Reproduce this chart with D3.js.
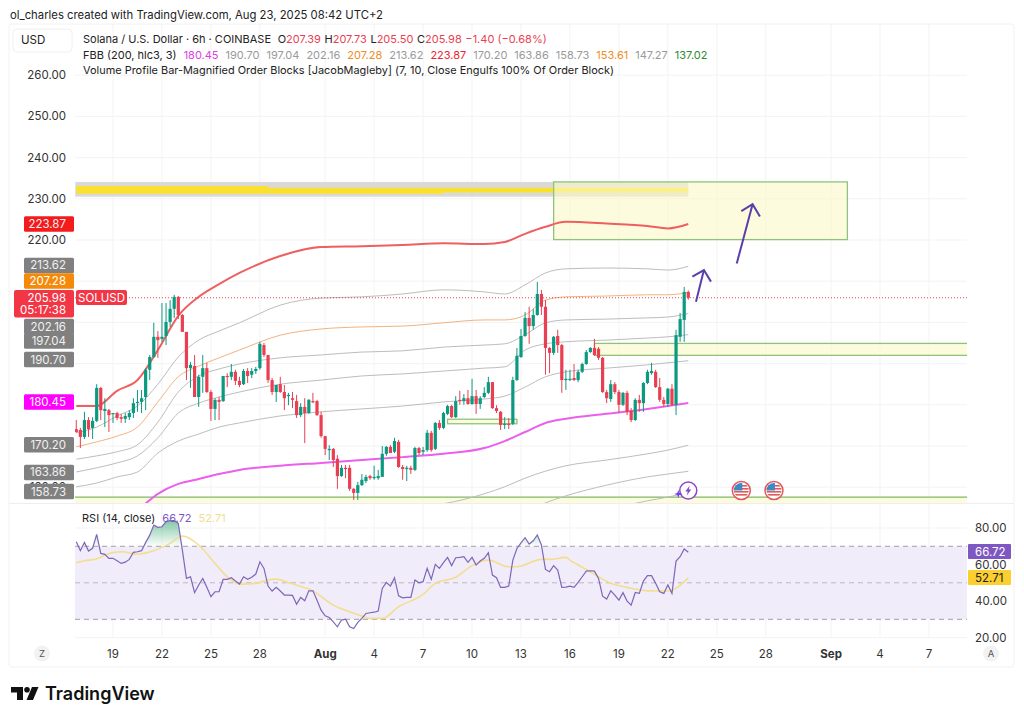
<!DOCTYPE html>
<html>
<head>
<meta charset="utf-8">
<script src="https://cdn.jsdelivr.net/npm/d3@7/dist/d3.min.js"></script>
<style>
  html, body { margin: 0; padding: 0; background: #fff; }
  svg { display: block; }
  text { font-family: Inter, "Noto Sans", sans-serif; }
</style>
</head>
<body>
<svg id="chart" width="1024" height="721"></svg>
<script>
// candles, 6h bars, the last one opens Aug 23 06:00 UTC
var opens = [174.1,173.9,172.2,176.3,174.4,176.1,184.1,178.5,178.7,177.8,
178.0,177.0,176.6,177.0,178.0,180.4,180.7,181.9,188.5,191.6,
196.5,196.0,196.7,200.1,203.3,206.2,201.8,197.7,188.9,189.4,
181.9,186.8,188.9,183.1,179.0,181.2,180.9,187.0,186.8,188.0,
185.8,185.0,188.2,187.3,188.2,188.9,194.5,192.1,186.0,183.1,
185.0,183.1,182.1,181.6,180.9,177.5,179.5,178.0,180.9,180.9,
177.5,172.4,169.0,169.3,166.9,162.7,164.7,164.7,159.6,158.6,
160.5,161.5,162.7,162.2,162.2,162.5,168.1,169.8,168.6,171.0,
164.9,164.4,164.7,164.2,169.5,168.6,169.0,173.2,169.3,175.6,
174.4,177.8,179.7,177.0,181.2,180.9,181.6,180.2,182.1,180.2,
181.9,182.9,185.5,179.2,178.3,175.1,175.4,175.4,186.0,191.6,
196.7,201.1,199.1,201.8,206.9,203.8,193.8,192.6,196.7,194.5,
186.0,186.0,186.5,186.0,188.0,189.9,192.8,193.8,193.6,191.4,
183.1,181.4,185.0,183.1,180.0,182.9,178.5,176.3,181.2,180.4,
185.3,187.7,188.0,184.3,181.2,180.2,183.9,180.0,196.5,200.6,207.39];
var highs = [176.3,174.4,178.3,177.0,177.0,185.0,184.3,181.6,179.0,178.0,
178.3,177.8,178.0,178.7,181.6,183.6,183.6,188.9,192.1,199.9,
197.9,204.7,204.7,205.4,206.7,206.4,202.0,197.7,190.4,192.1,
187.3,192.1,190.2,183.6,181.6,181.9,187.0,187.7,189.9,188.5,
186.8,188.7,188.9,188.9,189.2,195.3,195.0,192.1,186.5,184.8,
186.8,184.8,182.9,183.1,182.4,180.4,181.6,181.4,182.9,181.2,
178.3,172.4,170.2,169.5,167.8,165.4,165.4,165.4,159.8,161.3,
163.2,163.0,163.0,165.2,164.2,170.0,170.0,170.2,172.0,171.5,
165.4,165.2,165.2,169.8,169.8,169.8,173.9,173.7,175.8,176.3,
178.3,180.0,180.0,182.1,183.4,182.6,183.6,186.3,183.6,182.1,
184.3,186.8,185.5,179.9,178.5,177.0,176.8,186.8,193.8,198.4,
202.5,203.8,203.3,209.8,207.9,205.4,194.0,196.7,198.2,194.8,
188.5,188.5,189.9,188.5,190.2,193.3,194.0,196.0,194.0,191.6,
183.6,186.0,185.5,183.6,183.1,183.4,179.2,181.6,182.4,185.5,
188.5,190.2,188.5,186.5,181.9,184.1,185.0,198.2,202.3,208.6,207.73];
var lows = [173.2,169.5,171.7,172.2,171.7,175.8,176.3,174.6,173.4,175.6,
176.3,175.6,175.6,176.3,176.8,178.3,178.0,178.7,186.0,191.4,
191.4,195.3,194.5,198.9,201.1,200.8,197.7,186.0,184.1,181.9,
179.5,182.9,182.9,176.1,176.3,176.3,180.7,184.3,186.0,184.8,
184.3,184.8,185.3,186.5,187.5,188.5,191.6,185.3,182.4,180.7,
182.9,178.7,179.9,179.2,176.8,177.0,170.7,177.8,180.4,177.3,
172.0,167.8,166.6,164.9,159.6,162.5,162.2,159.1,156.9,156.9,
160.3,161.0,161.8,161.8,161.8,162.5,167.6,168.3,168.3,164.7,
161.8,161.5,163.2,163.9,167.8,167.8,168.6,168.6,169.0,173.9,
174.1,177.5,176.8,176.8,180.0,180.0,180.0,180.0,177.8,179.0,
181.6,182.6,179.0,178.0,173.9,174.1,174.1,175.1,185.8,191.4,
196.5,194.8,198.2,201.6,201.8,187.3,187.7,192.1,192.6,182.9,
183.6,185.8,185.8,185.5,187.7,189.7,192.6,191.9,190.9,182.9,
180.4,180.7,182.6,178.0,179.7,177.5,175.8,176.1,178.3,178.3,
185.0,187.3,184.1,180.7,179.5,179.5,179.7,177.5,195.3,195.3,205.50];
var closes = [173.4,172.2,176.3,174.1,176.1,184.1,178.7,179.0,177.5,178.0,
176.8,176.6,177.3,178.0,180.4,180.7,181.6,188.5,191.6,196.5,
195.7,196.5,200.1,203.3,206.2,201.8,197.7,188.9,189.7,181.9,
186.8,188.9,183.1,179.0,181.2,180.7,187.0,186.8,188.0,185.8,
184.8,188.2,187.0,188.2,188.7,194.8,192.1,186.0,183.1,184.8,
183.1,181.6,182.4,181.2,177.5,179.5,178.0,181.2,180.7,177.5,
172.4,169.3,169.3,166.6,162.7,164.7,164.4,159.6,158.6,160.5,
161.8,162.5,162.2,162.5,162.7,168.1,169.8,168.3,171.2,164.9,
164.4,164.7,164.2,169.5,168.3,169.0,173.2,169.0,175.6,174.4,
178.0,179.7,177.0,180.9,180.9,181.6,180.2,182.1,180.2,181.6,
182.9,185.5,179.2,178.5,175.1,175.4,175.1,186.0,191.9,196.7,
201.1,199.1,201.8,206.9,203.8,193.8,192.6,196.5,194.5,186.0,
186.3,186.3,186.0,188.0,189.9,192.8,193.8,192.1,191.4,183.1,
181.6,185.0,183.1,180.0,182.9,178.3,176.3,181.2,180.4,185.3,
188.0,188.2,184.3,181.2,180.2,183.9,180.0,196.9,200.8,207.4,205.98];

// FBB lines, read every few bars
var bandBars = [0,5,10,15,20,25,30,35,40,50,60,70,80,90,100,105,110,115,120,130,140,145,150];
var fbbRed = [179.7,179.7,183.4,186.0,193.3,201.6,206.2,209.3,212.0,216.1,218.3,218.5,218.8,219.2,219.0,219.5,221.5,223.2,224.4,224.0,223.4,222.8,223.87];
var fbb21362 = [173.2,174.6,177.3,179.7,185.0,191.6,195.7,197.9,199.9,204.2,205.9,206.2,206.9,207.9,207.4,206.9,209.1,212.0,213.0,213.2,213.0,212.7,213.62];
var fbbOrange = [169.8,171.0,172.4,174.6,180.7,186.8,189.4,191.4,193.3,196.9,198.4,198.9,199.1,199.9,200.6,200.6,201.8,205.4,206.2,206.4,206.7,206.7,207.28];
var fbb20216 = [166.8,167.6,168.6,170.3,175.8,183.1,187.0,188.7,189.9,191.4,192.1,192.8,193.1,194.0,194.5,194.8,197.0,199.9,200.6,200.8,201.1,201.3,202.16];
var fbb19704 = [163.7,164.7,165.9,167.6,172.0,178.0,180.4,181.9,183.1,185.0,186.0,187.0,187.5,188.2,188.9,189.2,193.3,194.8,195.3,195.7,196.2,196.5,197.04];
var fbb19070 = [160.1,161.0,162.5,163.7,168.3,171.2,172.9,174.6,175.6,177.3,178.3,179.0,179.7,180.7,181.4,182.1,184.3,186.8,188.0,188.9,189.7,190.2,190.70];
var fbbBasis = [147.2,149.6,152.1,154.5,158.4,160.8,162.0,163.2,164.2,165.2,165.9,166.6,167.3,168.1,169.5,171.2,173.4,175.6,176.6,177.8,179.0,179.7,180.45];
var fbb17020 = [136,137,139,142,146,148,149,149.5,150,152,153,154,155.2,156.0,158.4,160.1,162.2,163.9,165.2,166.6,168.1,169.0,170.20];
var fbb16386 = [128,129,131,134,138,141,143,144,145,146,147,148,149,150,151,152,154,156.2,157.9,160.5,162.5,163.2,163.86];
var fbb15873 = [122,123,125,128,132,135,137,138,139,140,141,142,143,144,145,146,148,150,152,154.5,156.7,157.6,158.73];

// RSI(14) per bar, and its moving average at the bars where it was read
var rsi = [72.5,67.6,72.1,67.4,68.9,76.5,66.1,65.6,63.4,63.4,
62.1,60.6,61.3,62.8,66.7,67.0,67.6,72.0,76.1,81.6,
80.4,80.7,83.5,84.0,84.0,82.5,67.9,52.4,53.3,44.6,
48.8,52.4,47.5,42.4,45.1,45.1,51.9,51.9,52.8,51.0,
49.3,53.3,51.9,53.0,54.8,61.5,57.9,48.2,45.5,47.5,
45.5,43.3,43.3,43.1,38.3,42.0,40.2,45.6,45.6,40.5,
35.0,31.9,31.0,28.6,25.9,29.6,30.1,25.9,25.0,28.3,
30.5,33.2,33.6,33.9,34.5,46.9,50.2,48.2,52.8,42.9,
41.8,42.0,42.0,51.5,50.0,50.6,57.9,51.9,60.1,57.9,
61.0,63.9,59.4,63.7,63.9,64.3,61.2,63.9,59.7,61.9,
63.4,66.5,54.2,52.8,47.5,47.5,48.2,62.4,68.8,71.9,
74.7,71.2,73.0,76.2,70.7,57.3,56.1,59.4,57.0,47.5,
47.6,48.2,47.5,50.2,53.3,56.4,56.6,56.4,52.4,42.7,
41.1,45.6,43.3,40.5,44.6,40.0,37.8,44.7,44.2,50.9,
53.9,53.9,49.7,45.1,44.2,48.8,44.2,61.9,64.3,68.5,66.72];
var rsiMaBars = [0,2,4.5,9,11.5,14.5,19,23,26,30,34,37,40,44,47,49,52.5,58,63,67,70,72,75,79,85,88,93,97,101,106,108,114,116,120,121,125,128,131,135,140,145,150];
var rsiMa = [61.0,62.1,62.8,66.5,67.0,65.7,67.6,71.6,75.6,70.7,60.6,53.3,49.3,49.7,51.5,52.0,49.7,45.6,37.8,34.1,31.8,30.5,30.5,36.9,43.6,49.7,53.0,59.4,62.4,58.8,58.8,62.8,62.8,63.9,62.4,57.3,53.3,49.7,47.5,45.6,45.5,52.71];

var priceTicks = [260,250,240,230,220,210,200,190,180,170,160];
// the tags cover the other price labels
var priceLabels = [260,250,240,230,220,160];
var rsiTicks = [80,60,40,20];
var rsiLevels = [70,50,30];
var dateTicks = ["2025-07-19","2025-07-22","2025-07-25","2025-07-28","2025-08-01","2025-08-04","2025-08-07","2025-08-10","2025-08-13","2025-08-16","2025-08-19","2025-08-22","2025-08-25","2025-08-28","2025-09-01","2025-09-04","2025-09-07"];

// order blocks: start, end, top, bottom
var boxStarts = ["2025-08-15T00:00Z","2025-08-17T12:00Z","2025-08-08T12:00Z"];
var boxEnds = ["2025-09-02T00:00Z","2025-09-14T00:00Z","2025-08-12T18:00Z"];
var boxTops = [234.1,194.9,176.5];
var boxBottoms = [220.1,192.0,175.4];
var floorLevel = 157.6;

// volume profile strip
var vpTop = 234.1, vpBottom = 230.5;
var vpBars = [0,47,90,150];
var vpYellowTop = [233.1,232.7,232.7,232.6];
var vpYellowBottom = [231.2,231.2,231.5,231.6];

// hand drawn arrows: days after Jul 19, price
var arrow1Days = [35.72,36.21,35.5,36.21,36.64], arrow1Prices = [205.0,212.7,211.1,212.7,209.9];
var arrow2Days = [38.22,39.19,38.5,39.19,39.64], arrow2Prices = [214.3,228.7,227.0,228.7,225.7];

var flagDates = ["2025-08-26T12:00Z","2025-08-28T12:00Z"];

var fbbLegend = ["180.45","190.70","197.04","202.16","207.28","213.62","223.87","170.20","163.86","158.73","153.61","147.27","137.02"];
var fbbLegendColors = ["#e040e0","#9a9a9a","#9a9a9a","#9a9a9a","#f08c1e","#9a9a9a","#e8262e","#9a9a9a","#9a9a9a","#9a9a9a","#f08c1e","#9a9a9a","#2e8b2e"];

var UP = "#0b9a80", DOWN = "#ea3f52", PURPLE = "#7e57c2", BOX_GREEN = "#8fc37c", BOX_FILL = "#fcf9c6";
var left = 75, right = 967, mainTop = 24, mainBottom = 503, rsiBottom = 638;

var svg = d3.select("#chart");

var x = d3.scaleUtc()
  .domain([new Date("2025-07-19T00:00Z"), new Date("2025-09-07T00:00Z")])
  .range([113, 929]);
var y = d3.scaleLinear().domain([220, 260]).range([240, 75.2]);
var yRsi = d3.scaleLinear().domain([20, 80]).range([637.6, 528]);

var lastBar = new Date("2025-08-23T06:00Z").getTime();
function barX(i) { return x(new Date(lastBar - (150 - i) * 6 * 3600e3)); }
function dayX(d) { return x(new Date(new Date("2025-07-19T00:00Z").getTime() + d * 864e5)); }

var defs = svg.append("defs");
defs.append("clipPath").attr("id", "mainClip").append("rect")
  .attr("x", left).attr("y", mainTop).attr("width", right - left).attr("height", mainBottom - mainTop);
defs.append("clipPath").attr("id", "overClip").append("rect")
  .attr("x", left).attr("y", mainBottom).attr("width", right - left).attr("height", yRsi(70) - mainBottom);
var grad = defs.append("linearGradient").attr("id", "overGrad")
  .attr("gradientUnits", "userSpaceOnUse")
  .attr("x1", 0).attr("x2", 0).attr("y1", yRsi(84)).attr("y2", yRsi(70));
grad.append("stop").attr("offset", 0).attr("stop-color", "#4fb283").attr("stop-opacity", 0.7);
grad.append("stop").attr("offset", 1).attr("stop-color", "#4fb283").attr("stop-opacity", 0.02);

// frame
svg.append("rect").attr("x", 9).attr("y", 24).attr("width", 1005).attr("height", 643)
  .attr("fill", "none").attr("stroke", "#f2f2f2").attr("rx", 3);
svg.append("line").attr("x1", 9).attr("x2", 1014).attr("y1", mainBottom + 0.5).attr("y2", mainBottom + 0.5).attr("stroke", "#eeeeee");

// grid
svg.append("g").selectAll("line").data(dateTicks).join("line")
  .attr("x1", d => x(new Date(d + "T00:00Z"))).attr("x2", d => x(new Date(d + "T00:00Z")))
  .attr("y1", mainTop).attr("y2", rsiBottom).attr("stroke", "#f3f3f5");
svg.append("g").selectAll("line").data(priceTicks).join("line")
  .attr("x1", left).attr("x2", right).attr("y1", d => y(d)).attr("y2", d => y(d)).attr("stroke", "#f3f3f5");
svg.append("g").selectAll("line").data(rsiTicks).join("line")
  .attr("x1", left).attr("x2", right).attr("y1", d => yRsi(d)).attr("y2", d => yRsi(d)).attr("stroke", "#f3f3f5");

// main pane
var main = svg.append("g").attr("clip-path", "url(#mainClip)");

// volume profile strip
main.append("rect").attr("x", barX(0) - 1).attr("width", barX(150) - barX(0) + 1)
  .attr("y", y(vpTop)).attr("height", y(vpBottom) - y(vpTop)).attr("fill", "#d9d9d9");
var vpArea = d3.area().curve(d3.curveStepAfter).x((d, i) => barX(vpBars[i]))
  .y0((d, i) => y(vpYellowBottom[i])).y1((d, i) => y(vpYellowTop[i]));
main.append("path").datum(vpBars).attr("d", vpArea).attr("fill", "#fbe12f");

// order blocks
boxStarts.forEach(function (start, i) {
  var x0 = x(new Date(start)), x1 = x(new Date(boxEnds[i]));
  main.append("rect").attr("x", x0).attr("y", y(boxTops[i])).attr("width", x1 - x0)
    .attr("height", y(boxBottoms[i]) - y(boxTops[i]))
    .attr("fill", BOX_FILL).attr("fill-opacity", 0.6)
    .attr("stroke", BOX_GREEN).attr("stroke-width", 1.3);
});
main.append("rect").attr("x", left).attr("width", right - left).attr("y", y(floorLevel)).attr("height", mainBottom - y(floorLevel)).attr("fill", BOX_FILL).attr("fill-opacity", 0.6);
main.append("line").attr("x1", left).attr("x2", right).attr("y1", y(floorLevel)).attr("y2", y(floorLevel)).attr("stroke", "#7fb868").attr("stroke-width", 1.3);

// FBB lines
var bandLine = d3.line().curve(d3.curveMonotoneX).x((d, i) => barX(bandBars[i])).y(d => y(d));
[fbb15873, fbb16386, fbb17020, fbb19070, fbb19704, fbb20216, fbb21362].forEach(function (s) {
  main.append("path").datum(s).attr("d", bandLine).attr("fill", "none").attr("stroke", "#bdbdbd").attr("stroke-width", 1);
});
main.append("path").datum(fbbOrange).attr("d", bandLine).attr("fill", "none").attr("stroke", "#f3b27e").attr("stroke-width", 1);
main.append("path").datum(fbbBasis).attr("d", bandLine).attr("fill", "none").attr("stroke", "#ea5fec").attr("stroke-width", 2);
main.append("path").datum(fbbRed).attr("d", bandLine).attr("fill", "none").attr("stroke", "#ee5f5f").attr("stroke-width", 2);

// last price line
main.append("line").attr("x1", left).attr("x2", right).attr("y1", y(205.98)).attr("y2", y(205.98))
  .attr("stroke", DOWN).attr("stroke-dasharray", "1,2").attr("stroke-width", 1);

// candles
var bars = main.append("g").selectAll("g").data(closes).join("g");
bars.append("line")
  .attr("x1", (d, i) => barX(i)).attr("x2", (d, i) => barX(i))
  .attr("y1", (d, i) => y(highs[i])).attr("y2", (d, i) => y(lows[i]))
  .attr("stroke", (d, i) => d >= opens[i] ? UP : DOWN).attr("stroke-width", 1);
bars.append("rect")
  .attr("x", (d, i) => barX(i) - 1.6).attr("width", 3.2)
  .attr("y", (d, i) => y(Math.max(d, opens[i])))
  .attr("height", (d, i) => Math.max(1.2, Math.abs(y(d) - y(opens[i]))))
  .attr("fill", (d, i) => d >= opens[i] ? UP : DOWN);

// arrows
var arrowLine = d3.line();
[[arrow1Days, arrow1Prices], [arrow2Days, arrow2Prices]].forEach(function (a) {
  var pts = a[0].map((d, i) => [dayX(d), y(a[1][i])]);
  svg.append("path").attr("d", arrowLine(pts.slice(0, 2))).attr("fill", "none").attr("stroke", "#5b3fa8").attr("stroke-width", 2);
  svg.append("path").attr("d", arrowLine(pts.slice(2))).attr("fill", "none").attr("stroke", "#5b3fa8").attr("stroke-width", 2);
});

// event icons
var iconY = 490.5;
var bolt = svg.append("g").attr("transform", "translate(" + x(new Date(lastBar)) + "," + iconY + ")");
bolt.append("circle").attr("r", 8.5).attr("fill", "#fff").attr("stroke", "#8e44c8").attr("stroke-width", 1.5);
bolt.append("path").attr("d", "M1.5,-5 L-3,1 L-0.5,1 L-1.5,5 L3,-1 L0.5,-1 Z").attr("fill", "#8e44c8");
svg.append("path").attr("transform", "translate(" + (x(new Date(lastBar)) - 10) + "," + (iconY + 3.5) + ")")
  .attr("d", "M0,-4 L1,-1 L4,0 L1,1 L0,4 L-1,1 L-4,0 L-1,-1 Z").attr("fill", "#6a3df0");
flagDates.forEach(function (d, i) {
  var g = svg.append("g").attr("transform", "translate(" + x(new Date(d)) + "," + iconY + ")");
  defs.append("clipPath").attr("id", "flag" + i).append("circle").attr("r", 7.5);
  g.append("circle").attr("r", 9).attr("fill", "#fff").attr("stroke", "#e2595c").attr("stroke-width", 1.5);
  var f = g.append("g").attr("clip-path", "url(#flag" + i + ")");
  [-5.5, -2.5, 0.5, 3.5].forEach(function (s) {
    f.append("rect").attr("x", -8).attr("y", s).attr("width", 16).attr("height", 1.6).attr("fill", "#e2595c");
  });
  f.append("rect").attr("x", -8).attr("y", -8).attr("width", 9).attr("height", 8).attr("fill", "#3f88c8");
});

// RSI pane
svg.append("rect").attr("x", left).attr("width", right - left)
  .attr("y", yRsi(70)).attr("height", yRsi(30) - yRsi(70)).attr("fill", "#f0ecf9");
svg.append("g").selectAll("line").data(rsiLevels).join("line")
  .attr("x1", left).attr("x2", right).attr("y1", d => yRsi(d)).attr("y2", d => yRsi(d))
  .attr("stroke", d => d == 50 ? "#bdb9c4" : "#a29fa8").attr("stroke-dasharray", "5,4").attr("stroke-width", 1);

var overArea = d3.area().x((d, i) => barX(i)).y0(yRsi(70)).y1(d => yRsi(d));
svg.append("path").datum(rsi).attr("clip-path", "url(#overClip)").attr("d", overArea).attr("fill", "url(#overGrad)");
var maLine = d3.line().curve(d3.curveMonotoneX).x((d, i) => barX(rsiMaBars[i])).y(d => yRsi(d));
svg.append("path").datum(rsiMa).attr("d", maLine).attr("fill", "none").attr("stroke", "#f3de8f").attr("stroke-width", 1.6);
var rsiLine = d3.line().x((d, i) => barX(i)).y(d => yRsi(d));
svg.append("path").datum(rsi).attr("d", rsiLine).attr("fill", "none").attr("stroke", "#7e66b8").attr("stroke-width", 1.2);

// price axis
svg.append("g").selectAll("text").data(priceLabels).join("text")
  .attr("x", 66).attr("y", d => y(d) + 4).attr("text-anchor", "end")
  .attr("font-size", 11.5).attr("fill", "#333").text(d => d.toFixed(2));

// price tags sit on top of the axis, pushed apart where they would overlap
function tag(label, cy, fill, textColor, x0, x1) {
  svg.append("rect").attr("x", x0).attr("y", cy - 7.8).attr("width", x1 - x0).attr("height", 15.6).attr("rx", 1.5).attr("fill", fill);
  svg.append("text").attr("x", 66).attr("y", cy + 4).attr("text-anchor", "end").attr("font-size", 11.5).attr("fill", textColor).text(label);
}
var tagValues = [223.87, 213.62, 207.28, 202.16, 197.04, 190.70, 180.45, 170.20, 163.86, 158.73];
var tagShift = [0, -0.8, -11.4, 13, 6.4, -1.2, -0.9, -0.5, 1.2, -0.9];
var tagFill = ["#f31b1b", "#808080", "#f58a0a", "#808080", "#808080", "#808080", "#ff00ff", "#808080", "#808080", "#808080"];
tagValues.forEach(function (v, i) {
  tag(v.toFixed(2), y(v) + tagShift[i], tagFill[i], i == 2 || i == 6 ? "#fff" : "#f0f0f0", 24, 74);
});
svg.append("rect").attr("x", 14).attr("y", 290).attr("width", 60).attr("height", 27.5).attr("rx", 2).attr("fill", "#f23645");
svg.append("text").attr("x", 66).attr("y", 301.5).attr("text-anchor", "end").attr("font-size", 11.5).attr("fill", "#fff").text("205.98");
svg.append("text").attr("x", 66).attr("y", 314).attr("text-anchor", "end").attr("font-size", 11.5).attr("fill", "#fff").text("05:17:38");
svg.append("rect").attr("x", 76).attr("y", 290).attr("width", 51).attr("height", 15).attr("rx", 2).attr("fill", "#f23645");
svg.append("text").attr("x", 101.5).attr("y", 301.5).attr("text-anchor", "middle").attr("font-size", 11.5).attr("fill", "#fff").text("SOLUSD");

// USD button
svg.append("rect").attr("x", 13).attr("y", 29).attr("width", 59).attr("height", 23).attr("rx", 4).attr("fill", "#fff").attr("stroke", "#f0f0f0");
svg.append("text").attr("x", 21).attr("y", 44).attr("font-size", 11.5).attr("fill", "#222").text("USD");

// RSI axis
svg.append("g").selectAll("text").data(rsiTicks).join("text")
  .attr("x", 975).attr("y", d => yRsi(d) + 4).attr("font-size", 11.5).attr("fill", "#333").text(d => d.toFixed(2));
svg.append("rect").attr("x", 968).attr("y", 544).attr("width", 43).attr("height", 15).attr("rx", 1).attr("fill", "#7e57c2");
svg.append("text").attr("x", 975).attr("y", 556).attr("font-size", 11.5).attr("fill", "#fff").text("66.72");
svg.append("rect").attr("x", 968).attr("y", 570).attr("width", 43).attr("height", 15).attr("rx", 1).attr("fill", "#fbcf30");
svg.append("text").attr("x", 975).attr("y", 582).attr("font-size", 11.5).attr("fill", "#222").text("52.71");

// time axis
function tickLabel(d) {
  var dt = new Date(d + "T00:00Z");
  if (dt.getUTCDate() == 1) return d3.utcFormat("%b")(dt);
  return dt.getUTCDate();
}
svg.append("g").selectAll("text").data(dateTicks).join("text")
  .attr("x", d => x(new Date(d + "T00:00Z"))).attr("y", 658).attr("text-anchor", "middle")
  .attr("font-size", 11.5).attr("fill", "#333")
  .attr("font-weight", d => new Date(d + "T00:00Z").getUTCDate() == 1 ? 700 : 400)
  .text(tickLabel);
[[42, "Z"], [991, "A"]].forEach(function (b) {
  svg.append("circle").attr("cx", b[0]).attr("cy", 653.5).attr("r", 8).attr("fill", "#f2f2f2");
  svg.append("text").attr("x", b[0]).attr("y", 657).attr("text-anchor", "middle").attr("font-size", 9.5).attr("fill", "#555").text(b[1]);
});

// header and legends
svg.append("text").attr("x", 10).attr("y", 19).attr("font-size", 11.3).attr("fill", "#222")
  .text("ol_charles created with TradingView.com, Aug 23, 2025 08:42 UTC+2");

var line1 = svg.append("text").attr("x", 83).attr("y", 43).attr("font-size", 11).attr("fill", "#222");
line1.append("tspan").text("Solana / U.S. Dollar · 6h · COINBASE ");
[["O", "207.39"], ["H", "207.73"], ["L", "205.50"], ["C", "205.98"]].forEach(function (p) {
  line1.append("tspan").attr("dx", 3.6).text(p[0]);
  line1.append("tspan").attr("fill", DOWN).text(p[1]);
});
line1.append("tspan").attr("dx", 3.6).attr("fill", DOWN).text("−1.40 (−0.68%)");

var line2 = svg.append("text").attr("x", 83).attr("y", 59).attr("font-size", 11).attr("fill", "#222");
line2.append("tspan").text("FBB (200, hlc3, 3)");
fbbLegend.forEach(function (v, i) {
  line2.append("tspan").attr("dx", 7).attr("fill", fbbLegendColors[i]).text(v);
});

svg.append("text").attr("x", 83).attr("y", 74).attr("font-size", 10.95).attr("fill", "#222")
  .text("Volume Profile Bar-Magnified Order Blocks [JacobMagleby] (7, 10, Close Engulfs 100% Of Order Block)");

var rsiLegend = svg.append("text").attr("x", 82).attr("y", 522).attr("font-size", 11).attr("fill", "#222");
rsiLegend.append("tspan").text("RSI (14, close)");
rsiLegend.append("tspan").attr("dx", 7).attr("fill", PURPLE).text("66.72");
rsiLegend.append("tspan").attr("dx", 7).attr("fill", "#f3de8f").text("52.71");

// logo
var logo = svg.append("g").attr("fill", "#111");
logo.append("path").attr("d", "M11,687 H23 V700 H17 V692.5 H11 Z");
logo.append("circle").attr("cx", 27).attr("cy", 689.8).attr("r", 2.8);
logo.append("path").attr("d", "M32,687 H38.5 L33,700 H26.5 Z");
svg.append("text").attr("x", 45).attr("y", 700).attr("font-size", 18).attr("font-weight", 600).attr("fill", "#111").text("TradingView");
</script>
</body>
</html>
